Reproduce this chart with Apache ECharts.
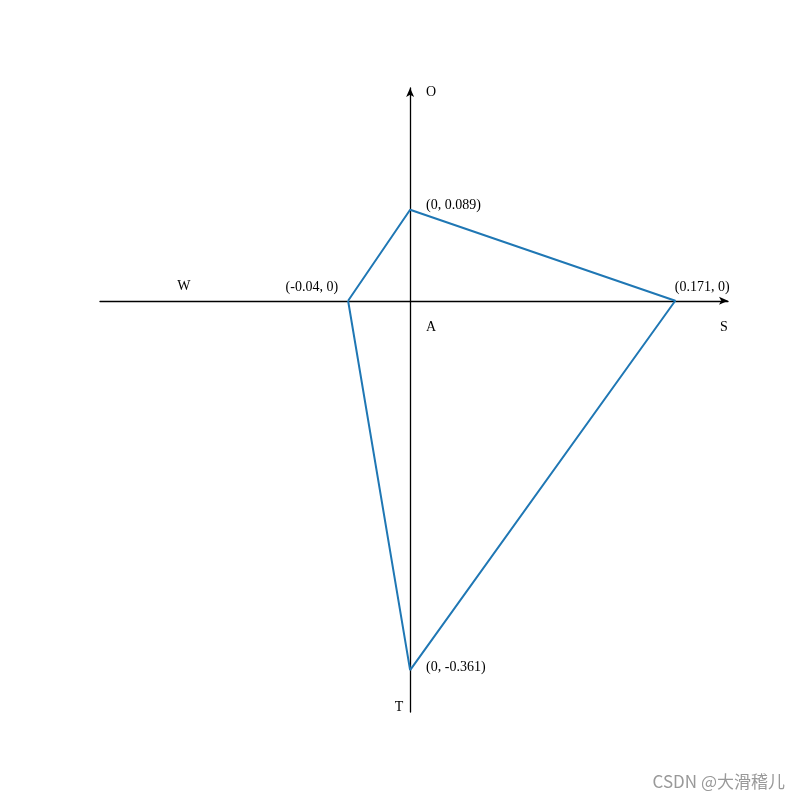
<!DOCTYPE html>
<html>
<head>
<meta charset="utf-8">
<script src="https://cdn.jsdelivr.net/npm/echarts@6/dist/echarts.min.js"></script>
<style>
  html, body { margin: 0; padding: 0; background: #fff; }
  #chart { width: 800px; height: 800px; }
</style>
</head>
<body>
<div id="chart"></div>
<script>
// 四个顶点 (SWOT 战略四边形)
var pointX = [-0.04, 0, 0.171, 0];
var pointY = [0, 0.089, 0, -0.361];
// 坐标轴名称
var axisNames = ['O', 'S', 'W', 'T', 'A'];

var serif = "'Liberation Serif', 'Times New Roman', serif";

// 每个顶点标签的摆放
var labelPos = [
  { position: 'left', distance: 10, offset: [0, -13] },
  { position: 'right', distance: 16, offset: [0, -4] },
  { position: 'top', distance: 6, offset: [27, 0] },
  { position: 'right', distance: 16, offset: [0, -3] }
];

var seriesData = [];
for (var i = 0; i <= pointX.length; i++) {
  var k = i % pointX.length;
  var item = { value: [pointX[k], pointY[k]] };
  if (i < pointX.length) {
    item.label = Object.assign({ show: true }, labelPos[k]);
  } else {
    item.label = { show: false };
  }
  seriesData.push(item);
}

var chart = echarts.init(document.getElementById('chart'));
chart.setOption({
  animation: false,
  grid: { left: 100, right: 72, top: 88, bottom: 88 },
  xAxis: {
    type: 'value',
    min: -0.2,
    max: 0.205,
    axisLine: { onZero: true, symbol: ['none', 'arrow'], symbolSize: [6, 9], lineStyle: { color: '#000', width: 1.3 } },
    axisTick: { show: false },
    axisLabel: { show: false },
    splitLine: { show: false }
  },
  yAxis: {
    type: 'value',
    min: -0.402,
    max: 0.208,
    axisLine: { onZero: true, symbol: ['none', 'arrow'], symbolSize: [6, 9], lineStyle: { color: '#000', width: 1.3 } },
    axisTick: { show: false },
    axisLabel: { show: false },
    splitLine: { show: false }
  },
  series: [{
    type: 'line',
    data: seriesData,
    symbol: 'circle',
    symbolSize: 0,
    showSymbol: true,
    lineStyle: { color: '#1f77b4', width: 2 },
    itemStyle: { color: '#1f77b4' },
    label: {
      show: true,
      color: '#000',
      fontFamily: serif,
      fontSize: 14,
      formatter: function (p) { return '(' + p.value[0] + ', ' + p.value[1] + ')'; }
    }
  }]
});

// 轴名称文字，按坐标换算位置
function at(x, y, dx, dy) {
  var p = chart.convertToPixel({ gridIndex: 0 }, [x, y]);
  return [p[0] + dx, p[1] + dy];
}
var anchors = [
  at(0, 0.208, 21, 4),
  at(0.205, 0, -4, 27),
  at(-0.146, 0, 0, -14),
  at(0, -0.402, -11, -5),
  at(0, 0, 21, 27)
];
var texts = axisNames.map(function (n, i) {
  return {
    type: 'text',
    x: anchors[i][0],
    y: anchors[i][1],
    style: { text: n, fill: '#000', font: '14px ' + serif, textAlign: 'center', textVerticalAlign: 'middle' }
  };
});
texts.push({
  type: 'text',
  right: 15,
  bottom: 10,
  style: { text: 'CSDN @大滑稽儿', fill: '#999', font: "17px 'Noto Sans CJK SC', sans-serif" }
});
chart.setOption({ graphic: texts });
</script>
</body>
</html>
